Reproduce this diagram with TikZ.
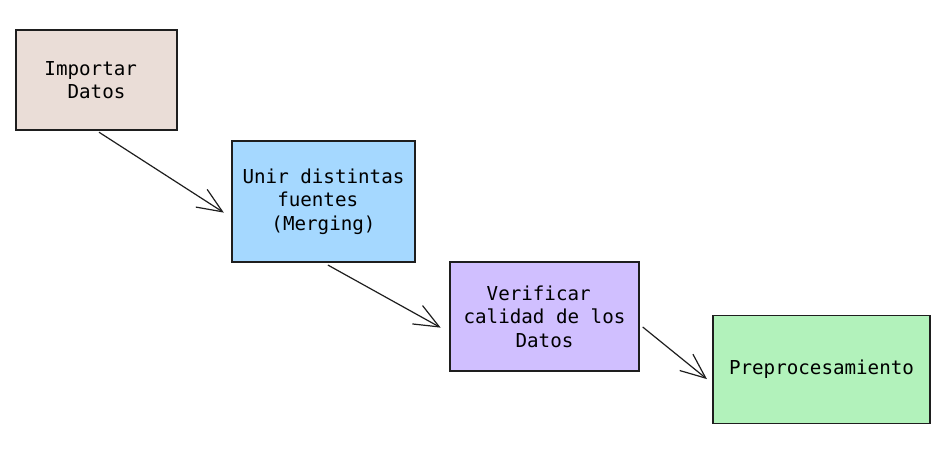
\documentclass[tikz,border=0pt]{standalone}
\usepackage{fontspec}
\setmonofont{DejaVu Sans Mono}
\usetikzlibrary{arrows.meta}
\definecolor{ink}{HTML}{1E1E1E}
\definecolor{bronze}{HTML}{EADDD7}
\definecolor{skyblue}{HTML}{A5D8FF}
\definecolor{lavender}{HTML}{D0BFFF}
\definecolor{mint}{HTML}{B2F2BB}
\newcommand\trail{\phantom{x}}
\tikzset{
  stage/.style={
    draw=ink,
    rectangle,
    line width=1.2pt,
    align=center,
    inner sep=0,
    node font=\ttfamily\fontsize{19.2}{23.5}\selectfont,
  },
  flow/.style={
    draw=ink,
    ->,
    >={Straight Barb[length=25pt,width=21pt]},
    line width=1.2pt,
  },
  import/.style={
    stage,
    fill=bronze,
    minimum width=161pt,
    minimum height=100pt,
  },
  merge/.style={
    stage,
    fill=skyblue,
    minimum width=183pt,
    minimum height=121pt,
  },
  check/.style={
    stage,
    fill=lavender,
    minimum width=189pt,
    minimum height=109pt,
  },
  prep/.style={
    stage,
    fill=mint,
    minimum width=217pt,
    minimum height=108pt,
  },
}

\begin{document}
\begin{tikzpicture}[x=1pt,y=-1pt]
  \useasboundingbox (0,0) rectangle (948,471);

  \node (import) [import] at (96.5,80)    {Importar\trail\\Datos};
  \node (merge)  [merge]  at (323.5,201.5) {Unir distintas\\fuentes\trail\\(Merging)};
  \node (check)  [check]  at (544.5,316.5) {Verificar\trail\\calidad de los\\Datos};
  \node (prep)   [prep]   at (821.5,369.5) {Preprocesamiento};

  \path [flow,shorten <=3pt,shorten >=9pt]  (import.south) -- ([yshift=-16pt]merge.west);
  \path [flow,shorten <=5pt,shorten >=10pt] (merge.south) -- ([yshift=-16pt]check.west);
  \path [flow,shorten <=4pt,shorten >=7pt]  ([yshift=-8pt]check.east) -- ([yshift=-14pt]prep.west);
\end{tikzpicture}
\end{document}
